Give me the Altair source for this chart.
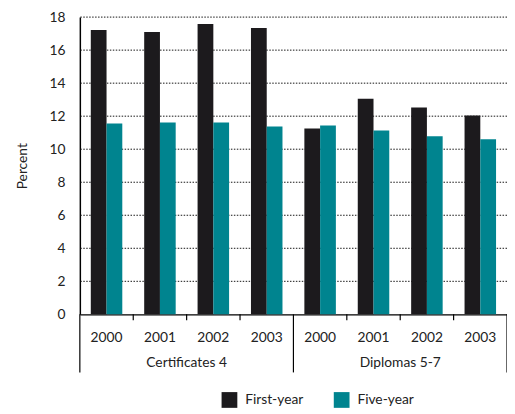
import altair as alt
import pandas as pd

categories = ["Certificates 4", "Diplomas 5-7"]
years = ["2000", "2001", "2002", "2003"]
series = ["First-year", "Five-year"]
first_year = [17.22, 17.10, 17.58, 17.34, 11.26, 13.05, 12.52, 12.04]
five_year = [11.56, 11.62, 11.62, 11.38, 11.44, 11.14, 10.79, 10.61]
y_ticks = [0, 2, 4, 6, 8, 10, 12, 14, 16, 18]
colors = ["#1c1a1d", "#00848f"]

FONT = "Lato, sans-serif"
W, H = 434, 302
HALF = W / 8 / 2

keys = [f"{c}|{y}" for c in categories for y in years]
rows = []
for i, k in enumerate(keys):
    rows.append({"key": k, "series": series[0], "value": first_year[i]})
    rows.append({"key": k, "series": series[1], "value": five_year[i]})
df = pd.DataFrame(rows)

xscale = alt.Scale(domain=keys, paddingInner=0.41, paddingOuter=0.205)
yscale = alt.Scale(domain=[0, 18], nice=False)
yaxis = alt.Axis(title="Percent", values=y_ticks, ticks=False,
                 labelPadding=15, labelFontSize=14, labelColor="#222",
                 titleFontSize=14, titleFontWeight="normal", titleColor="#222",
                 titlePadding=20, titleFont=FONT, labelFont=FONT,
                 domainColor="#000", domainWidth=1.5, grid=False)

grid = alt.Chart(pd.DataFrame({"v": y_ticks[1:]})).mark_rule(
    color="#111", strokeWidth=1, strokeDash=[1.5, 1.5]
).encode(y=alt.Y("v:Q", scale=yscale, axis=yaxis, title="Percent"))

bars = alt.Chart(df).mark_bar().encode(
    x=alt.X("key:O", scale=xscale, sort=keys,
            axis=alt.Axis(title=None, labelExpr="split(datum.value, '|')[1]",
                          ticks=False, tickSize=0, labelAngle=0, labelPadding=17,
                          labelFontSize=14, labelColor="#222", domainColor="#000",
                          domainWidth=1.2, grid=False, labelFont=FONT)),
    xOffset=alt.XOffset("series:N", sort=series, scale=alt.Scale(paddingInner=0, paddingOuter=0)),
    y=alt.Y("value:Q", scale=yscale, axis=yaxis, title="Percent"),
    color=alt.Color("series:N", sort=series, scale=alt.Scale(domain=series, range=colors),
                    legend=alt.Legend(title=None, orient="none", legendX=144, legendY=381,
                                      direction="horizontal", symbolType="square",
                                      symbolSize=256, symbolStrokeWidth=0, labelFontSize=14,
                                      labelFont=FONT, labelColor="#222", labelOffset=8,
                                      columnPadding=30, padding=0)),
)

tick_keys = [f"{c}|{y}" for c in categories for y in years[1:]]
ticks = alt.Chart(pd.DataFrame({"key": tick_keys})).mark_rule(
    color="#000", strokeWidth=1.2, xOffset=-HALF
).encode(x=alt.X("key:O", scale=xscale, sort=keys), y=alt.value(H), y2=alt.value(H + 6))

sep_keys = [f"{c}|{years[0]}" for c in categories]
seps = alt.Chart(pd.DataFrame({"key": sep_keys})).mark_rule(
    color="#000", strokeWidth=1.2, xOffset=-HALF
).encode(x=alt.X("key:O", scale=xscale, sort=keys), y=alt.value(H), y2=alt.value(H + 59))

end_sep = alt.Chart(pd.DataFrame({"key": [keys[-1]]})).mark_rule(
    color="#000", strokeWidth=1.2, xOffset=HALF
).encode(x=alt.X("key:O", scale=xscale, sort=keys), y=alt.value(H), y2=alt.value(H + 59))

lab_df = pd.DataFrame({"key": [f"{c}|{years[2]}" for c in categories], "label": categories})
group_labels = alt.Chart(lab_df).mark_text(
    fontSize=14, font=FONT, color="#222", xOffset=-HALF, baseline="middle"
).encode(x=alt.X("key:O", scale=xscale, sort=keys), y=alt.value(H + 50), text="label:N")

chart = alt.layer(grid, bars, ticks, seps, end_sep, group_labels).properties(
    width=W, height=H,
    autosize=alt.AutoSizeParams(type="none"),
    padding={"left": 73, "top": 6, "right": 0, "bottom": 98},
).configure_view(stroke=None).configure_axis(labelFont=FONT)

chart.save("out.html", embed_options={"renderer": "svg", "actions": False})
